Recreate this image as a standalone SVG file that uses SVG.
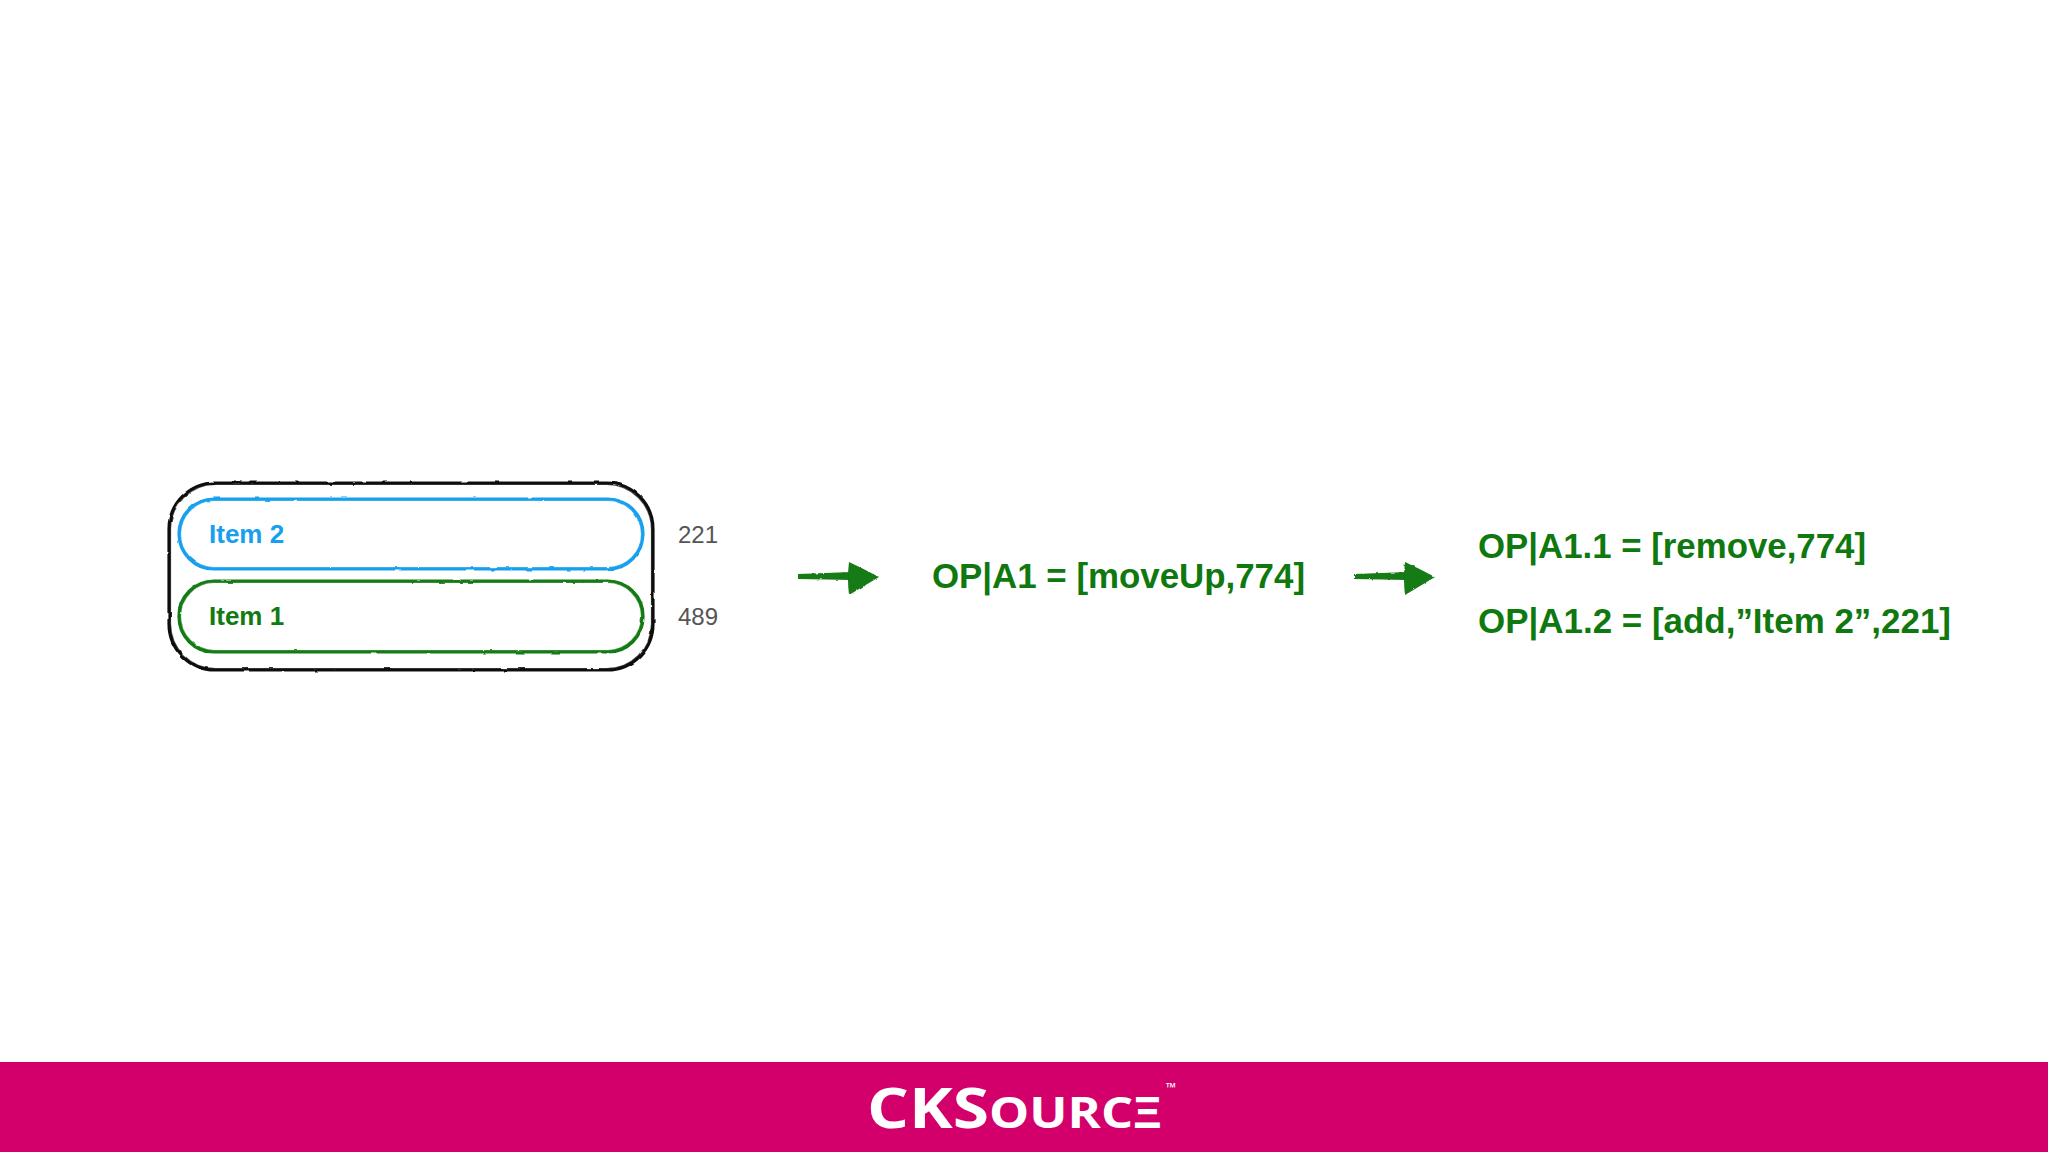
<svg xmlns="http://www.w3.org/2000/svg" width="2048" height="1152" viewBox="0 0 2048 1152">
  <defs>
    <filter id="rough" x="-5%" y="-20%" width="110%" height="140%">
      <feTurbulence type="fractalNoise" baseFrequency="0.08" numOctaves="2" seed="3" result="n"/>
      <feDisplacementMap in="SourceGraphic" in2="n" scale="2.2" xChannelSelector="R" yChannelSelector="G"/>
    </filter>
    <filter id="roughArrow" x="-20%" y="-40%" width="140%" height="180%">
      <feTurbulence type="fractalNoise" baseFrequency="0.25" numOctaves="2" seed="7" result="n"/>
      <feDisplacementMap in="SourceGraphic" in2="n" scale="2.5" xChannelSelector="R" yChannelSelector="G"/>
    </filter>
  </defs>
  <style>
    .frame { fill: none; stroke: #111; stroke-width: 3.2; }
    .pill2 { fill: none; stroke: #18a0ee; stroke-width: 3.2; }
    .pill1 { fill: none; stroke: #127a12; stroke-width: 3.2; }
    .thin { stroke-width: 1.2; opacity: 0.7; }
    .item { font-family: "Liberation Sans", Arial, sans-serif; font-weight: 700; font-size: 26px; }
    .num { font-family: "Liberation Sans", Arial, sans-serif; font-size: 24px; fill: #555; }
    .op { font-family: "Liberation Sans", Arial, sans-serif; font-weight: 700; font-size: 34.5px; fill: #0f780f; }
    .arrow { fill: #127a12; }
    .logo { font-family: "Open Sans", "DejaVu Sans", sans-serif; font-weight: 700; fill: #fff; }
  </style>
  <rect x="0" y="0" width="2048" height="1152" fill="#fff"/>

  <g id="list-box" filter="url(#rough)">
    <rect class="frame" x="169" y="483" width="484" height="187" rx="46" ry="46"/>
    <rect class="frame thin" x="170.5" y="484.5" width="481" height="184" rx="45" ry="45"/>
  </g>

  <g id="item-2">
    <g filter="url(#rough)">
      <rect class="pill2" x="179" y="499" width="464" height="70" rx="35" ry="35"/>
      <rect class="pill2 thin" x="180.5" y="500.5" width="461" height="67" rx="33.5" ry="33.5"/>
    </g>
    <text class="item" x="209" y="543" fill="#18a0ee">Item 2</text>
    <text class="num" x="678" y="543">221</text>
  </g>

  <g id="item-1">
    <g filter="url(#rough)">
      <rect class="pill1" x="179" y="581" width="464" height="71" rx="35" ry="35"/>
      <rect class="pill1 thin" x="180.5" y="582.5" width="461" height="68" rx="34" ry="34"/>
    </g>
    <text class="item" x="209" y="625" fill="#127a12">Item 1</text>
    <text class="num" x="678" y="625">489</text>
  </g>

  <g id="connectors">
    <g id="arrow-1" class="arrow" filter="url(#roughArrow)">
      <path d="M798,574 L826,573 L851,572 L851,580 L826,579.5 L798,579 Z"/>
      <path d="M849,562 Q864,569 879,577 Q864,586 849,595 Q847,578 849,562 Z"/>
    </g>
    <g id="arrow-2" class="arrow" filter="url(#roughArrow)">
      <path d="M1354,574 L1382,573 L1407,572 L1407,580 L1382,579.5 L1354,579 Z"/>
      <path d="M1405,562 Q1420,569 1435,577 Q1420,586 1405,595 Q1403,578 1405,562 Z"/>
    </g>
  </g>

  <g id="op-a1">
    <text class="op" x="932" y="588" textLength="373" lengthAdjust="spacingAndGlyphs">OP|A1 = [moveUp,774]</text>
  </g>

  <g id="op-a1-split">
    <text class="op" x="1478" y="558" textLength="388" lengthAdjust="spacingAndGlyphs">OP|A1.1 = [remove,774]</text>
    <text class="op" x="1478" y="633" textLength="473" lengthAdjust="spacingAndGlyphs">OP|A1.2 = [add,”Item 2”,221]</text>
  </g>

  <g id="footer">
    <rect x="0" y="1062" width="2048" height="90" fill="#d3006b"/>
    <text class="logo" x="867" y="1128" textLength="295" lengthAdjust="spacingAndGlyphs"><tspan font-size="56">CKS</tspan><tspan font-size="43">OURCΞ</tspan></text>
    <text class="logo" x="1166" y="1092" font-size="13">™</text>
  </g>
</svg>
